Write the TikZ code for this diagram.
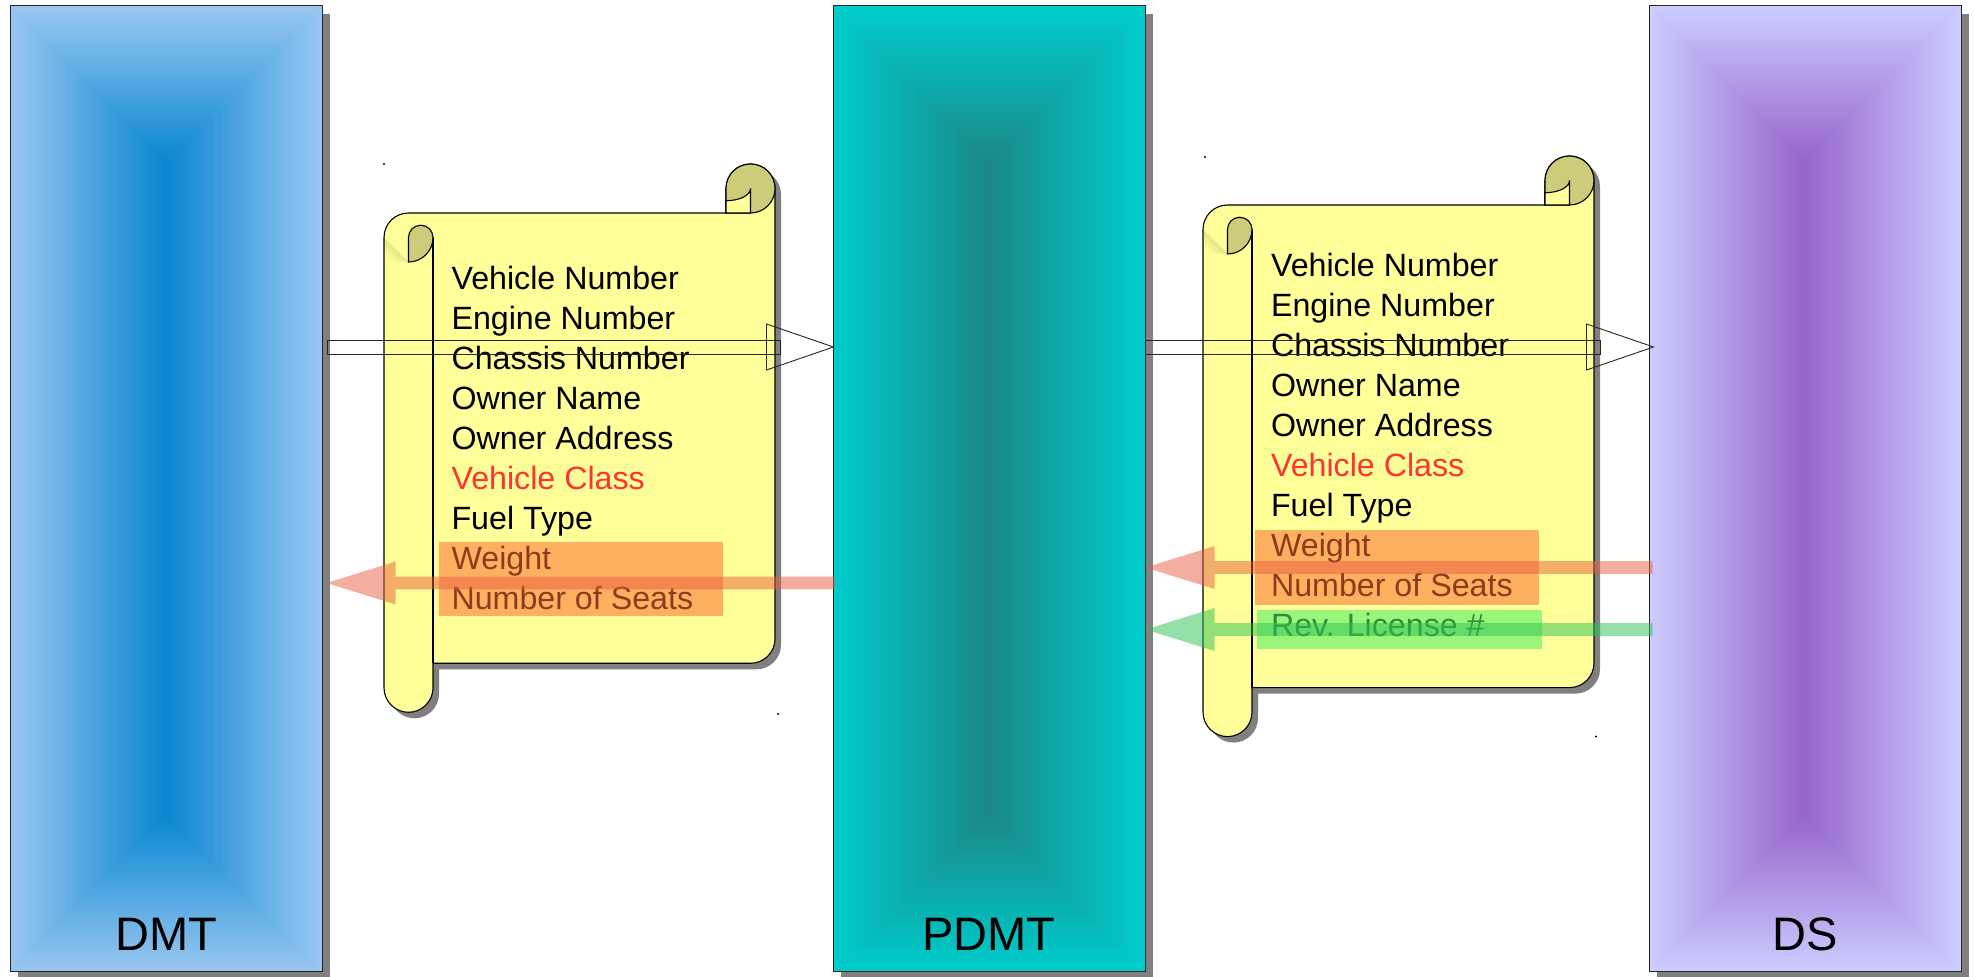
\documentclass[tikz,border=0pt]{standalone}
\usepackage{fontspec}
\setmainfont{Liberation Sans}
\usetikzlibrary{calc}
\definecolor{scrollyellow}{RGB}{255,255,153}
\definecolor{curl}{RGB}{204,204,122}
\definecolor{shadowgray}{RGB}{128,128,128}
\definecolor{dmtedge}{RGB}{152,198,240}
\definecolor{dmtcenter}{RGB}{10,135,210}
\definecolor{pdmtedge}{RGB}{0,204,204}
\definecolor{pdmtcenter}{RGB}{26,136,136}
\definecolor{dsedge}{RGB}{204,204,255}
\definecolor{dscenter}{RGB}{150,102,204}
\definecolor{redarrow}{RGB}{235,95,65}
\definecolor{greenarrow}{RGB}{45,195,85}
\definecolor{orangehl}{RGB}{255,110,50}
\definecolor{greenhl}{RGB}{80,240,100}
\definecolor{classred}{RGB}{255,51,51}
\newcommand\scrolltxt{\fontsize{32.2}{40}\selectfont}
\newcommand\boxlbl{\fontsize{47}{56}\selectfont}
\newcommand\gradbox[6]{%
  \foreach \i in {0,...,59}{%
    \pgfmathsetmacro\gd{\i*2.6}%
    \pgfmathtruncatemacro\gmix{\i*100/59}%
    \fill[color=#6!\gmix!#5] ({#1+\gd},{#3+\gd}) rectangle ({#2-\gd},{#4-\gd});%
  }%
}
\newcommand\scrollfig[4]{% x0 x1 Yt Yb, roll radius 24.5
  \fill[shadowgray, shift={(6,-6)}] (#1,#3-24.5) arc[start angle=180,end angle=90,radius=24.5] -- (#2-49,#3) -- (#2-49,#3+24.5) arc[start angle=180,end angle=0,radius=24.5] -- (#2,#4+24.5) arc[start angle=0,end angle=-90,radius=24.5] -- (#1+49,#4) -- (#1+49,#4-24.5) arc[start angle=0,end angle=-180,radius=24.5] -- cycle;
  \fill[scrollyellow] (#1,#3-24.5) arc[start angle=180,end angle=90,radius=24.5] -- (#2-49,#3) -- (#2-49,#3+24.5) arc[start angle=180,end angle=0,radius=24.5] -- (#2,#4+24.5) arc[start angle=0,end angle=-90,radius=24.5] -- (#1+49,#4) -- (#1+49,#4-24.5) arc[start angle=0,end angle=-180,radius=24.5] -- cycle;
  \shade[top color=curl, bottom color=scrollyellow, shading angle=-45] (#1,#3-24.5) -- (#1+24.5,#3-49) -- (#1,#3-49) -- cycle;
  \draw (#1,#3-24.5) arc[start angle=180,end angle=90,radius=24.5] -- (#2-49,#3) -- (#2-49,#3+24.5) arc[start angle=180,end angle=0,radius=24.5] -- (#2,#4+24.5) arc[start angle=0,end angle=-90,radius=24.5] -- (#1+49,#4) -- (#1+49,#4-24.5) arc[start angle=0,end angle=-180,radius=24.5] -- cycle;
  \draw (#1+49,#3-24.5) -- (#1+49,#4);
  \filldraw[fill=curl] (#1+24.5,#3-49) -- (#1+24.5,#3-24.5) arc[start angle=180,end angle=0,radius=12.25] arc[start angle=0,end angle=-90,radius=24.5] -- cycle;
  \filldraw[fill=curl] (#2-49,#3) -- (#2-49,#3+24.5) arc[start angle=180,end angle=0,radius=24.5] arc[start angle=0,end angle=-90,radius=24.5] -- cycle;
  \filldraw[fill=scrollyellow] (#2-49,#3) -- (#2-49,#3+12.25) arc[start angle=-90,end angle=0,x radius=24.5,y radius=12.25] -- (#2-24.5,#3) -- cycle;
}
\newcommand\fatarrow[3]{% style, tail, tip (points left)
  \fill[#1] let \p1=(#2), \p2=(#3) in (\x1,\y1+6.3) -- (\x2+69,\y1+6.3) -- (\x2+69,\y1+21.5) -- (\x2,\y1) -- (\x2+69,\y1-21.5) -- (\x2+69,\y1-6.3) -- (\x1,\y1-6.3) -- cycle;
}
\tikzset{
  box/.style={draw=black!85, line width=1pt, minimum width=312pt, minimum height=966pt, inner sep=0pt},
  lbl/.style={font=\boxlbl, inner sep=0pt, anchor=base},
  txt/.style={font=\scrolltxt, inner sep=0pt, anchor=base west},
  hollow/.style={draw=black!85, line width=0.9pt},
  redfat/.style={fill=redarrow, fill opacity=0.5},
  greenfat/.style={fill=greenarrow, fill opacity=0.5},
}
\begin{document}
\begin{tikzpicture}[x=1pt,y=1pt,line width=1.1pt]
\useasboundingbox (0,0) rectangle (1974,977);
\fill[white] (0,0) rectangle (1974,977);
% box shadows
\fill[shadowgray] (18,-3) rectangle (330,963);
\fill[shadowgray] (841,-3) rectangle (1153,963);
\fill[shadowgray] (1657,-3) rectangle (1969,963);
% box gradients
\gradbox{10}{322}{5}{971}{dmtedge}{dmtcenter}
\gradbox{833}{1145}{5}{971}{pdmtedge}{pdmtcenter}
\gradbox{1649}{1961}{5}{971}{dsedge}{dscenter}
% boxes
\node[box] (dmt) at (166,488) {};
\node[box] (pdmt) at (989,488) {};
\node[box] (ds) at (1805,488) {};
\node[lbl] (dmtlbl) at ($(dmt.south)+(0,22)$) {DMT};
\node[lbl] (pdmtlbl) at ($(pdmt.south)+(0,22)$) {PDMT};
\node[lbl] (dslbl) at ($(ds.south)+(0,22)$) {DS};
% scrolls
\scrollfig{384}{775}{764}{313.7}
\scrollfig{1203}{1594}{772}{289.4}
% tiny marks
\fill (384,813) circle (1.2);
\fill (778,263) circle (1.2);
\fill (1205,820) circle (1.2);
\fill (1596,240.5) circle (1.2);
% left scroll text
\node[txt] (l1) at (451,687) {Vehicle Number};
\node[txt] (l2) at (451,647) {Engine Number};
\node[txt] (l3) at (451,607) {Chassis Number};
\node[txt] (l4) at (451,567) {Owner Name};
\node[txt] (l5) at (451,527) {Owner Address};
\node[txt, text=classred] (l6) at (451,487) {Vehicle Class};
\node[txt] (l7) at (451,447) {Fuel Type};
\node[txt] (l8) at (451,407) {Weight};
\node[txt] (l9) at (451,367) {Number of Seats};
% right scroll text
\node[txt] (r1) at (1270.5,700) {Vehicle Number};
\node[txt] (r2) at (1270.5,660) {Engine Number};
\node[txt] (r3) at (1270.5,620) {Chassis Number};
\node[txt] (r4) at (1270.5,580) {Owner Name};
\node[txt] (r5) at (1270.5,540) {Owner Address};
\node[txt, text=classred] (r6) at (1270.5,500) {Vehicle Class};
\node[txt] (r7) at (1270.5,460) {Fuel Type};
\node[txt] (r8) at (1270.5,420) {Weight};
\node[txt] (r9) at (1270.5,380) {Number of Seats};
\node[txt] (r10) at (1270.5,340) {Rev. License \#};
% highlights
\fill[orangehl, fill opacity=0.55] (439,361) rectangle (723,435);
\fill[orangehl, fill opacity=0.55] (1255,372.4) rectangle (1539,447);
\fill[greenhl, fill opacity=0.58] (1257,327.6) rectangle (1542,367.4);
% hollow arrows
\coordinate (h1s) at ($(dmt.east)+(5,142)$);
\coordinate (h1t) at ($(pdmt.west)+(1,142)$);
\draw[hollow] ($(h1s)+(0,7)$) rectangle ($(h1t)+(-53,-7)$);
\draw[hollow] ($(h1t)+(-67,23)$) -- (h1t) -- ($(h1t)+(-67,-23)$) -- cycle;
\coordinate (h2s) at ($(pdmt.east)+(0,142)$);
\coordinate (h2t) at ($(ds.west)+(5,142)$);
\draw[hollow] ($(h2s)+(0,7)$) rectangle ($(h2t)+(-53,-7)$);
\draw[hollow] ($(h2t)+(-67,23)$) -- (h2t) -- ($(h2t)+(-67,-23)$) -- cycle;
% fat translucent arrows
\coordinate (f1s) at ($(pdmt.west)+(2,-94)$);
\coordinate (f1t) at ($(dmt.east)+(4,-94)$);
\fatarrow{redfat}{f1s}{f1t}
\coordinate (f2s) at ($(ds.west)+(4,-78.5)$);
\coordinate (f2t) at ($(pdmt.east)+(0,-78.5)$);
\fatarrow{redfat}{f2s}{f2t}
\coordinate (f3s) at ($(ds.west)+(4,-140.5)$);
\coordinate (f3t) at ($(pdmt.east)+(0,-140.5)$);
\fatarrow{greenfat}{f3s}{f3t}
\end{tikzpicture}
\end{document}
